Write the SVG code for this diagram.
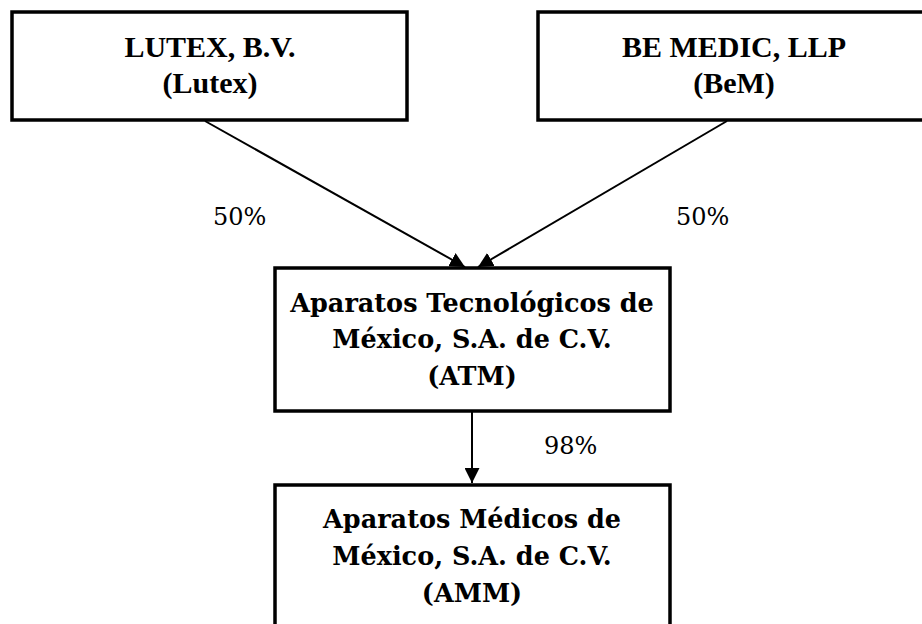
<svg xmlns="http://www.w3.org/2000/svg" width="922" height="624" viewBox="0 0 922 624">
<defs>
<style>
.box{fill:#fff;stroke:#000;stroke-width:3.5}
.t1{font-family:"Liberation Serif","Times New Roman",serif;font-weight:bold;font-size:30px;text-anchor:middle;fill:#000}
.t2{font-family:"DejaVu Serif",Georgia,serif;font-weight:bold;font-size:25.5px;text-anchor:middle;fill:#000}
.pct{font-family:"DejaVu Serif",Georgia,serif;font-size:24px;fill:#000}
.conn{stroke:#000;stroke-width:2;fill:none;marker-end:url(#ah)}
</style>
<marker id="ah" viewBox="0 0 10 10" refX="10" refY="5" markerWidth="7.5" markerHeight="7.5" markerUnits="strokeWidth" orient="auto">
<path d="M0,0 L10,5 L0,10 z" fill="#000"/>
</marker>
</defs>
<rect width="922" height="624" fill="#fff"/>
<g id="connectors">
<line class="conn" x1="205" y1="121" x2="465" y2="267"/>
<line class="conn" x1="727" y1="121" x2="478" y2="267"/>
<line class="conn" x1="472" y1="412" x2="472" y2="483"/>
<text class="pct" x="213" y="225">50%</text>
<text class="pct" x="676" y="225">50%</text>
<text class="pct" x="544" y="454">98%</text>
</g>
<g id="lutex">
<rect class="box" x="12" y="12" width="395" height="108"/>
<text class="t1" x="210" y="57">LUTEX, B.V.</text>
<text class="t1" x="210" y="93">(Lutex)</text>
</g>
<g id="bem">
<rect class="box" x="538" y="12" width="392" height="108"/>
<text class="t1" x="734" y="57">BE MEDIC, LLP</text>
<text class="t1" x="734" y="93">(BeM)</text>
</g>
<g id="atm">
<rect class="box" x="275" y="268" width="395" height="143"/>
<text class="t2" x="472" y="312">Aparatos Tecnológicos de</text>
<text class="t2" x="472" y="348">México, S.A. de C.V.</text>
<text class="t2" x="472" y="385">(ATM)</text>
</g>
<g id="amm">
<rect class="box" x="275" y="485" width="395" height="150"/>
<text class="t2" x="472" y="528">Aparatos Médicos de</text>
<text class="t2" x="472" y="565">México, S.A. de C.V.</text>
<text class="t2" x="472" y="602">(AMM)</text>
</g>
</svg>
